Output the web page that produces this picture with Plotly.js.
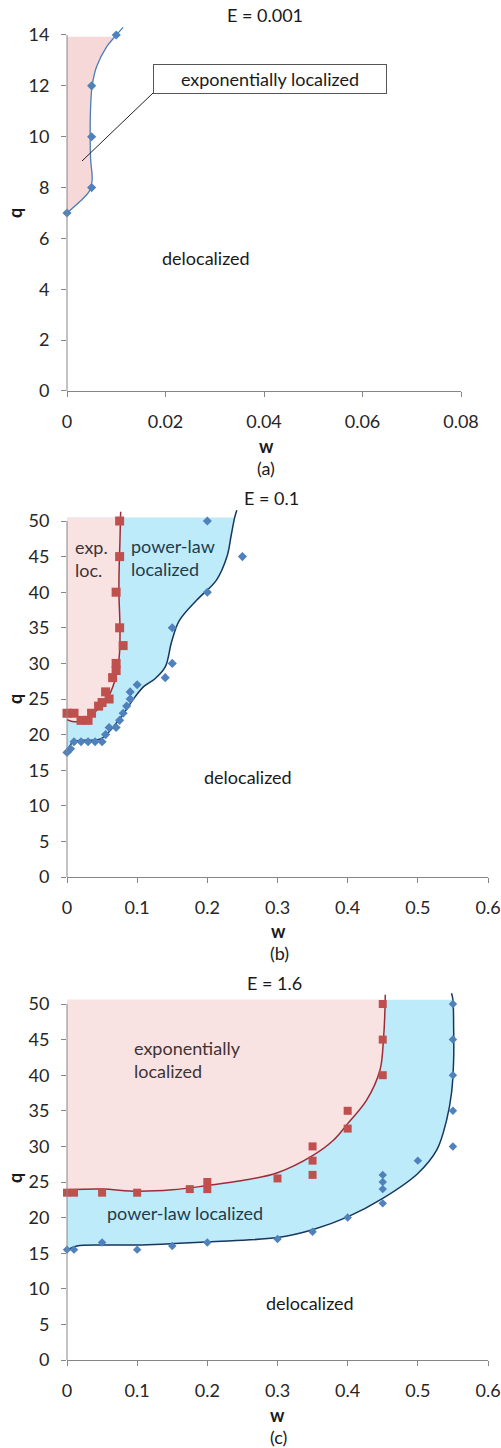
<!DOCTYPE html>
<html>
<head>
<meta charset="utf-8">
<script src="https://cdn.plot.ly/plotly-3.0.1.min.js"></script>
<style>html,body{margin:0;padding:0;background:#fff}#chart{width:501px;height:1448px}</style>
</head>
<body>
<div id="chart"></div>
<script>
// ---------------- DATA ----------------
// Panel (a) E = 0.001
const A_pts_w = [0, 0.005, 0.005, 0.005, 0.01];
const A_pts_q = [7, 8, 10, 12, 14];
const A_curve_w = [0, 0.0026, 0.0045, 0.0051, 0.0048, 0.0047, 0.0048, 0.0051, 0.006, 0.0081, 0.0097, 0.0114];
const A_curve_q = [7, 7.45, 7.85, 8.3, 9.1, 10.1, 11.2, 12, 12.75, 13.55, 13.93, 14.3];
const A_fillTop = 13.93;

// Panel (b) E = 0.1
const B_red_w = [0, 0.01, 0.02, 0.03, 0.035, 0.045, 0.05, 0.055, 0.06, 0.065, 0.07, 0.07, 0.08, 0.075, 0.07, 0.075, 0.075];
const B_red_q = [23, 23, 22, 22, 23, 24, 24.5, 26, 25, 28, 29, 30, 32.5, 35, 40, 45, 50];
const B_blue_w = [0, 0.005, 0.01, 0.02, 0.03, 0.04, 0.05, 0.055, 0.06, 0.07, 0.075, 0.08, 0.085, 0.09, 0.09, 0.1, 0.14, 0.15, 0.15, 0.2, 0.2, 0.25];
const B_blue_q = [17.5, 18, 19, 19, 19, 19, 19, 20, 21, 21, 22, 23, 24, 25, 26, 27, 28, 30, 35, 40, 50, 45];
const B_redCurve_w = [0, 0.01, 0.02, 0.035, 0.055, 0.068, 0.0745, 0.0755, 0.074, 0.0745, 0.0755, 0.0762, 0.0765];
const B_redCurve_q = [22.1, 21.8, 21.9, 22.8, 24.7, 27.5, 31, 35, 40, 44, 47.3, 50.5, 51.3];
const B_blueCurve_w = [0, 0.003, 0.008, 0.02, 0.035, 0.048, 0.06, 0.078, 0.097, 0.11, 0.125, 0.14, 0.149, 0.16, 0.185, 0.213, 0.228, 0.234, 0.239, 0.242];
const B_blueCurve_q = [17.3, 18.2, 18.9, 19.2, 19.2, 19.4, 20.4, 22.6, 25.3, 26.8, 27.8, 29.5, 33, 36, 38.9, 41.7, 45, 48, 50.5, 51.5];
const B_fillTop = 50.5;

// Panel (c) E = 1.6
const C_red_w = [0, 0.01, 0.05, 0.1, 0.175, 0.2, 0.2, 0.3, 0.35, 0.35, 0.35, 0.4, 0.4, 0.45, 0.45, 0.45];
const C_red_q = [23.5, 23.5, 23.5, 23.5, 24, 24, 25, 25.5, 26, 28, 30, 32.5, 35, 40, 45, 50];
const C_blue_w = [0, 0.01, 0.05, 0.1, 0.15, 0.2, 0.3, 0.35, 0.4, 0.45, 0.45, 0.45, 0.45, 0.5, 0.55, 0.55, 0.55, 0.55, 0.55];
const C_blue_q = [15.5, 15.5, 16.5, 15.5, 16, 16.5, 17, 18, 20, 22, 24, 25, 26, 28, 30, 35, 40, 45, 50];
const C_redCurve_w = [0, 0.05, 0.1, 0.15, 0.2, 0.25, 0.3, 0.35, 0.38, 0.4, 0.427, 0.446, 0.451, 0.4535, 0.4535];
const C_redCurve_q = [23.9, 24.0, 23.7, 23.9, 24.5, 25.2, 26.3, 28.7, 30.9, 33.2, 36.5, 40.7, 45, 50.6, 51.3];
const C_blueCurve_w = [0, 0.014, 0.05, 0.1, 0.2, 0.3, 0.35, 0.4, 0.45, 0.5, 0.527, 0.541, 0.548, 0.551, 0.551, 0.55, 0.548];
const C_blueCurve_q = [15.45, 16.0, 16.15, 16.15, 16.6, 17.2, 18.3, 20.1, 22.7, 26.2, 29.5, 33.7, 37.5, 42.1, 46.8, 50.6, 51.5];
const C_fillTop = 50.6;

// Ticks
const A_xticks = [0, 0.02, 0.04, 0.06, 0.08];
const A_yticks = [0, 2, 4, 6, 8, 10, 12, 14];
const BC_xticks = [0, 0.1, 0.2, 0.3, 0.4, 0.5, 0.6];
const BC_yticks = [0, 5, 10, 15, 20, 25, 30, 35, 40, 45, 50];

// ---------------- LAYOUT HELPERS ----------------
const W = 501, H = 1448;
const px = x => x / W;
const py = y => 1 - y / H;
const FONT = 'Lato, "Open Sans", sans-serif';
const AX = '#868686';

// panel geometry: left/right pixel, bottom pixel, pixel of top tick, top tick value, range top
const G = {
  a: {l: 67, r: 461, b: 391, t: 35, tv: 14, rt: 14.5},
  b: {l: 67, r: 488, b: 877, t: 521, tv: 50, rt: 52},
  c: {l: 67, r: 488, b: 1360, t: 1004, tv: 50, rt: 52}
};
function ydom(g) {
  const ppu = (g.b - g.t) / g.tv;
  return [py(g.b), py(g.b - g.rt * ppu)];
}
function xaxis(g, range, ticks, anchor) {
  return {domain: [px(g.l), px(g.r)], range: range, tickvals: ticks, anchor: anchor,
    showline: true, linecolor: AX, linewidth: 1, ticks: 'outside', ticklen: 5, tickcolor: AX,
    showgrid: false, zeroline: false, fixedrange: true, ticklabelstandoff: 9,
    tickfont: {family: FONT, size: 18, color: '#262626'}};
}
function yaxis(g, ticks, anchor) {
  return {domain: ydom(g), range: [0, g.rt], tickvals: ticks, anchor: anchor,
    showline: false, ticks: 'outside', ticklen: 5, tickcolor: AX,
    showgrid: false, zeroline: false, fixedrange: true, ticklabelstandoff: 8,
    tickfont: {family: FONT, size: 18, color: '#262626'}};
}
function upTo(w, q, top) {
  const xs = [], ys = [];
  for (let i = 0; i < w.length; i++) if (q[i] <= top + 1e-9) { xs.push(w[i]); ys.push(q[i]); }
  return {x: xs, y: ys};
}
// region between the q axis (w = 0) and a boundary curve, cut at the fill top
function region(cw, cq, top, color, xa, ya) {
  const c = upTo(cw, cq, top);
  return {x: c.x, y: c.y, mode: 'lines', line: {width: 0.5, color: color, shape: 'spline'},
    fill: 'tozerox', fillcolor: color, xaxis: xa, yaxis: ya, hoverinfo: 'skip', showlegend: false};
}
function line(w, q, color, width, xa, ya) {
  return {x: w, y: q, mode: 'lines', line: {color: color, width: width, shape: 'spline'}, xaxis: xa, yaxis: ya, hoverinfo: 'skip', showlegend: false};
}
function pts(w, q, sym, color, size, xa, ya) {
  return {x: w, y: q, mode: 'markers', marker: {symbol: sym, color: color, size: size, line: {width: 0}}, cliponaxis: false, xaxis: xa, yaxis: ya, hoverinfo: 'skip', showlegend: false};
}

const PINK_A = '#F6D8D8', PINK = '#F9E2E2', BLUE = '#BEEBFA';
const RED_M = '#C0504D', BLUE_M = '#4F81BD';
const RED_L = '#9B2D3A', NAVY_L = '#17375E';

const traces = [
  region(A_curve_w, A_curve_q, A_fillTop, PINK_A, 'x', 'y'),
  line(A_curve_w, A_curve_q, '#4A7EBB', 1.3, 'x', 'y'),
  pts(A_pts_w, A_pts_q, 'diamond', BLUE_M, 7, 'x', 'y'),

  region(B_blueCurve_w, B_blueCurve_q, B_fillTop, BLUE, 'x2', 'y2'),
  region(B_redCurve_w, B_redCurve_q, B_fillTop, PINK, 'x2', 'y2'),
  line(B_redCurve_w, B_redCurve_q, RED_L, 1.5, 'x2', 'y2'),
  line(B_blueCurve_w, B_blueCurve_q, NAVY_L, 1.5, 'x2', 'y2'),
  pts(B_red_w, B_red_q, 'square', RED_M, 9, 'x2', 'y2'),
  pts(B_blue_w, B_blue_q, 'diamond', BLUE_M, 7, 'x2', 'y2'),

  region(C_blueCurve_w, C_blueCurve_q, C_fillTop, BLUE, 'x3', 'y3'),
  region(C_redCurve_w, C_redCurve_q, C_fillTop, PINK, 'x3', 'y3'),
  line(C_redCurve_w, C_redCurve_q, RED_L, 1.5, 'x3', 'y3'),
  line(C_blueCurve_w, C_blueCurve_q, NAVY_L, 1.5, 'x3', 'y3'),
  pts(C_red_w, C_red_q, 'square', RED_M, 8, 'x3', 'y3'),
  pts(C_blue_w, C_blue_q, 'diamond', BLUE_M, 6.5, 'x3', 'y3')
];

function txt(text, x, y, opts) {
  return Object.assign({text: text, xref: 'paper', yref: 'paper', x: px(x), y: py(y),
    xanchor: 'center', yanchor: 'middle', showarrow: false,
    font: {family: FONT, size: 18, color: '#1a1a1a'}}, opts || {});
}
const annotations = [
  txt('E = 0.001', 265, 15), txt('E = 0.1', 271, 498), txt('E = 1.6', 274, 983),
  txt('<b>w</b>', 266, 446), txt('(a)', 266, 468),
  txt('<b>w</b>', 278, 931), txt('(b)', 279, 953),
  txt('<b>w</b>', 277, 1415), txt('(c)', 278, 1437),
  txt('<b>q</b>', 15, 213, {textangle: -90}),
  txt('<b>q</b>', 15, 699, {textangle: -90}),
  txt('<b>q</b>', 15, 1178, {textangle: -90}),
  txt('exponentially localized', 270, 79, {bgcolor: '#fff', bordercolor: '#555', borderwidth: 1, borderpad: 2, width: 228, height: 24}),
  txt('delocalized', 206, 258),
  txt('exp.<br>loc.', 73, 558, {xanchor: 'left', align: 'left', font: {family: FONT, size: 18, color: '#3e3434'}}),
  txt('power-law<br>localized', 129, 557, {xanchor: 'left', align: 'left', font: {family: FONT, size: 18, color: '#1f3d4a'}}),
  txt('delocalized', 248, 777),
  txt('exponentially<br>localized', 132, 1059, {xanchor: 'left', align: 'left', font: {family: FONT, size: 18, color: '#3e3434'}}),
  txt('power-law localized', 185, 1213, {font: {family: FONT, size: 18, color: '#1f3d4a'}}),
  txt('delocalized', 310, 1303)
];

function yAxisLine(g) {
  return {type: 'line', xref: 'paper', yref: 'paper', x0: px(g.l), x1: px(g.l), y0: py(g.b), y1: py(g.t), line: {color: AX, width: 1}};
}
const shapes = [
  yAxisLine(G.a), yAxisLine(G.b), yAxisLine(G.c),
  {type: 'line', xref: 'paper', yref: 'paper', x0: px(153), y0: py(93), x1: px(82), y1: py(161), line: {color: '#222', width: 1}}
];

const layout = {
  width: W, height: H, margin: {l: 0, r: 0, t: 0, b: 0},
  paper_bgcolor: '#fff', plot_bgcolor: 'rgba(0,0,0,0)', showlegend: false,
  xaxis: xaxis(G.a, [0, 0.08], A_xticks, 'y'),
  yaxis: yaxis(G.a, A_yticks, 'x'),
  xaxis2: xaxis(G.b, [0, 0.6], BC_xticks, 'y2'),
  yaxis2: yaxis(G.b, BC_yticks, 'x2'),
  xaxis3: xaxis(G.c, [0, 0.6], BC_xticks, 'y3'),
  yaxis3: yaxis(G.c, BC_yticks, 'x3'),
  annotations: annotations, shapes: shapes
};
Plotly.newPlot('chart', traces, layout, {staticPlot: true, displayModeBar: false});
</script>
</body>
</html>
